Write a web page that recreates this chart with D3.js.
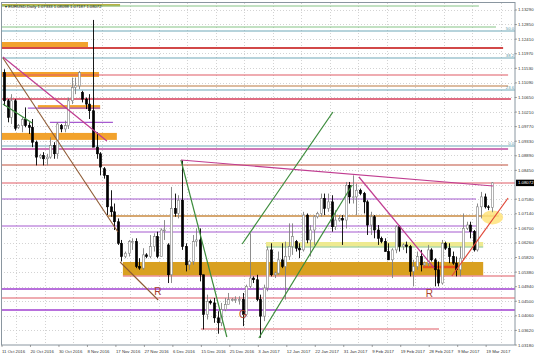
<!DOCTYPE html>
<html><head><meta charset="utf-8">
<script src="https://cdn.jsdelivr.net/npm/d3@7"></script>
<style>html,body{margin:0;padding:0;background:#fff;}svg{display:block;font-family:"Liberation Sans",Arial,sans-serif;}</style>
</head><body><svg id="c" width="536" height="358"></svg>
<script>
// ---------- DATA ----------
const title = "EURUSD,Daily  1.07333 1.08098 1.07187 1.08072";
const lastPrice = 1.08072;
// daily candles, one row per bar: [open, high, low, close]
const candles = [
[1.1140,1.1150,1.1040,1.1055],[1.1055,1.1060,1.0990,1.1005],[1.1005,1.1075,1.0985,1.1055],[1.1055,1.1060,1.0965,1.0972],
[1.0975,1.0985,1.0970,1.0980],[1.0980,1.1005,1.0960,1.0998],[1.0998,1.1035,1.0975,1.0980],[1.0980,1.0990,1.0955,1.0975],
[1.0975,1.1000,1.0915,1.0930],[1.0930,1.0935,1.0860,1.0885],[1.0885,1.0895,1.0880,1.0890],[1.0890,1.0900,1.0860,1.0880],
[1.0880,1.0895,1.0860,1.0885],[1.0885,1.0945,1.0880,1.0920],[1.0920,1.0930,1.0880,1.0895],[1.0895,1.0990,1.0880,1.0985],
[1.0980,1.0985,1.0960,1.0970],[1.0970,1.0995,1.0960,1.0980],[1.0980,1.1065,1.0970,1.1055],[1.1055,1.1125,1.1045,1.1095],
[1.1095,1.1125,1.1075,1.1100],[1.1100,1.1145,1.1090,1.1140],[1.1080,1.1085,1.1050,1.1060],[1.1060,1.1065,1.1030,1.1045],
[1.1045,1.1075,1.1000,1.1025],[1.1025,1.1299,1.1000,1.0915],[1.0915,1.0960,1.0880,1.0895],[1.0895,1.0900,1.0830,1.0855],
[1.0850,1.0855,1.0820,1.0830],[1.0830,1.0830,1.0710,1.0735],[1.0735,1.0785,1.0705,1.0720],[1.0720,1.0745,1.0665,1.0690],
[1.0690,1.0700,1.0620,1.0625],[1.0625,1.0635,1.0570,1.0585],[1.0585,1.0600,1.0580,1.0595],[1.0595,1.0635,1.0585,1.0630],
[1.0630,1.0640,1.0605,1.0630],[1.0630,1.0640,1.0550,1.0555],[1.0555,1.0580,1.0545,1.0550],[1.0550,1.0610,1.0545,1.0590],
[1.0590,1.0595,1.0580,1.0585],[1.0585,1.0650,1.0580,1.0615],[1.0615,1.0655,1.0600,1.0645],[1.0645,1.0660,1.0580,1.0585],
[1.0585,1.0670,1.0585,1.0665],[1.0665,1.0695,1.0635,1.0665],[1.0620,1.0625,1.0505,1.0530],[1.0530,1.0795,1.0505,1.0730],
[1.0730,1.0775,1.0705,1.0715],[1.0715,1.0770,1.0700,1.0755],[1.0755,1.0875,1.0605,1.0615],[1.0615,1.0625,1.0540,1.0560],
[1.0560,1.0575,1.0545,1.0570],[1.0570,1.0650,1.0560,1.0630],[1.0630,1.0670,1.0615,1.0635],[1.0635,1.0670,1.0510,1.0530],
[1.0530,1.0530,1.0365,1.0410],[1.0410,1.0470,1.0395,1.0450],[1.0450,1.0455,1.0440,1.0445],[1.0445,1.0460,1.0385,1.0400],
[1.0400,1.0420,1.0352,1.0385],[1.0385,1.0445,1.0375,1.0425],[1.0425,1.0460,1.0420,1.0440],[1.0440,1.0475,1.0440,1.0455],
[1.0455,1.0460,1.0450,1.0455],[1.0455,1.0465,1.0445,1.0455],[1.0455,1.0465,1.0440,1.0455],[1.0455,1.0475,1.0375,1.0410],
[1.0410,1.0500,1.0405,1.0495],[1.0495,1.0655,1.0490,1.0520],[1.0520,1.0525,1.0505,1.0515],[1.0515,1.0530,1.0450,1.0455],
[1.0455,1.0470,1.0340,1.0405],[1.0405,1.0500,1.0390,1.0490],[1.0490,1.0615,1.0480,1.0605],[1.0605,1.0625,1.0525,1.0530],
[1.0530,1.0540,1.0520,1.0535],[1.0535,1.0600,1.0530,1.0575],[1.0575,1.0625,1.0550,1.0555],[1.0555,1.0630,1.0455,1.0585],
[1.0585,1.0685,1.0575,1.0615],[1.0615,1.0685,1.0590,1.0645],[1.0630,1.0635,1.0600,1.0610],[1.0610,1.0625,1.0580,1.0605],
[1.0605,1.0720,1.0600,1.0710],[1.0710,1.0715,1.0625,1.0635],[1.0635,1.0680,1.0585,1.0665],[1.0665,1.0710,1.0620,1.0705],
[1.0705,1.0720,1.0700,1.0715],[1.0715,1.0775,1.0705,1.0760],[1.0760,1.0775,1.0710,1.0730],[1.0730,1.0775,1.0720,1.0750],
[1.0750,1.0770,1.0660,1.0675],[1.0675,1.0725,1.0665,1.0695],[1.0695,1.0710,1.0690,1.0700],[1.0700,1.0710,1.0620,1.0695],
[1.0695,1.0810,1.0670,1.0800],[1.0800,1.0810,1.0745,1.0765],[1.0765,1.0830,1.0745,1.0765],[1.0765,1.0805,1.0710,1.0785],
[1.0785,1.0790,1.0770,1.0775],[1.0775,1.0780,1.0715,1.0750],[1.0750,1.0755,1.0650,1.0680],[1.0680,1.0720,1.0650,1.0705],
[1.0705,1.0710,1.0640,1.0665],[1.0665,1.0680,1.0620,1.0640],[1.0640,1.0645,1.0625,1.0630],[1.0630,1.0640,1.0600,1.0600],
[1.0600,1.0625,1.0575,1.0575],[1.0575,1.0610,1.0520,1.0605],[1.0605,1.0680,1.0595,1.0675],[1.0675,1.0680,1.0600,1.0615],
[1.0615,1.0625,1.0605,1.0620],[1.0620,1.0630,1.0595,1.0615],[1.0615,1.0620,1.0525,1.0540],[1.0540,1.0575,1.0495,1.0555],
[1.0555,1.0600,1.0545,1.0585],[1.0585,1.0605,1.0540,1.0560],[1.0560,1.0570,1.0555,1.0565],[1.0565,1.0620,1.0555,1.0605],
[1.0605,1.0610,1.0570,1.0575],[1.0575,1.0580,1.0495,1.0545],[1.0545,1.0570,1.0495,1.0505],[1.0505,1.0635,1.0500,1.0625],
[1.0625,1.0630,1.0605,1.0610],[1.0610,1.0625,1.0565,1.0585],[1.0585,1.0600,1.0560,1.0565],[1.0565,1.0585,1.0525,1.0545],
[1.0545,1.0615,1.0525,1.0580],[1.0580,1.0715,1.0575,1.0670],[1.0670,1.0690,1.0665,1.0680],[1.0680,1.0690,1.0640,1.0660],
[1.0660,1.0665,1.0600,1.0605],[1.0605,1.0745,1.0600,1.0735],[1.0735,1.0780,1.0700,1.0765],[1.0765,1.0775,1.0730,1.0735],
[1.0735,1.0740,1.0725,1.0733],[1.07333,1.08098,1.07187,1.08072]
];
const dateLabels = ["11 Oct 2016","20 Oct 2016","30 Oct 2016","8 Nov 2016","17 Nov 2016","27 Nov 2016","6 Dec 2016",
  "15 Dec 2016","25 Dec 2016","3 Jan 2017","12 Jan 2017","22 Jan 2017","31 Jan 2017","9 Feb 2017","19 Feb 2017",
  "28 Feb 2017","9 Mar 2017","19 Mar 2017"];
const labelEvery = 8; // bars between date labels
const priceLabels = ["1.13290","1.12850","1.12410","1.11970","1.11530","1.11090","1.10650","1.10210","1.09770",
  "1.09330","1.08890","1.08450","1.07580","1.07140","1.06700","1.06260","1.05820","1.05380","1.04940","1.04500",
  "1.04060","1.03620","1.03180"];
// horizontal levels: price, from bar, to bar, kind
const levels = [
 {p:1.13410,a:-1,b:133.4,k:"greenH"},
 {p:1.12777,a:-1,b:138.2,k:"greenH"},
 {p:1.12656,a:-1,b:144,k:"fib"},
 {p:1.12143,a:-1,b:140.2,k:"red2"},
 {p:1.11841,a:-1,b:144,k:"fib"},
 {p:1.11328,a:-1,b:141.6,k:"red"},
 {p:1.10996,a:-1,b:141.6,k:"brown"},
 {p:1.10875,a:-1,b:144,k:"fib"},
 {p:1.10604,a:-1,b:142.4,k:"crimson"},
 {p:1.10330,a:6.7,b:27,k:"purple"},
 {p:1.09900,a:12.9,b:30.6,k:"purple"},
 {p:1.09185,a:-1,b:144,k:"fib"},
 {p:1.09095,a:-1,b:141.6,k:"magenta"},
 {p:1.08612,a:-1,b:141.6,k:"brownRed"},
 {p:1.08069,a:-1,b:144,k:"red"},
 {p:1.07586,a:-1,b:132.6,k:"purple"},
 {p:1.07073,a:29.2,b:139,k:"orangeBrown"},
 {p:1.06771,a:-1,b:133.1,k:"purple"},
 {p:1.06590,a:35.4,b:133.4,k:"purple"},
 {p:1.06137,a:73.6,b:134.6,k:"greenH"},
 {p:1.05262,a:33.4,b:144,k:"red"},
 {p:1.04870,a:-1,b:144,k:"purple2"},
 {p:1.04598,a:-1,b:144,k:"red"},
 {p:1.04236,a:-1,b:144,k:"purple2"},
 {p:1.03663,a:55.3,b:122.2,k:"red"},
 {p:1.05534,a:117.7,b:127,k:"orangeRed"}
];
const fibNames = [{p:1.12656,t:"50.0"},{p:1.11841,t:"38.2"},{p:1.10875,t:"23.6"},{p:1.09185,t:"0.0"}];
// zones: price top, price bottom, from bar, to bar, kind
const zones = [
 {p1:1.13470,p2:1.13400,a:-1,b:32.6,k:"olive"},
 {p1:1.12324,p2:1.12173,a:-1,b:23.6,k:"orange"},
 {p1:1.11419,p2:1.11268,a:-1,b:26.7,k:"orange"},
 {p1:1.10420,p2:1.10300,a:9.5,b:27,k:"orange"},
 {p1:1.09580,p2:1.09370,a:-1,b:31.7,k:"orange"},
 {p1:1.06288,p2:1.06150,a:73.6,b:134.6,k:"yellow"},
 {p1:1.05685,p2:1.05280,a:33.4,b:134.6,k:"gold"}
];
// trend lines: bar/price start and end, kind
const trends = [
 {i1:-0.3,p1:1.11871,i2:28.9,p2:1.09336,k:"magentaT"},
 {i1:-0.3,p1:1.11841,i2:32.0,p2:1.06590,k:"brownT"},
 {i1:-0.3,p1:1.10453,i2:7.9,p2:1.09880,k:"greenT"},
 {i1:32.6,p1:1.05685,i2:43.3,p2:1.04538,k:"brownT"},
 {i1:49.7,p1:1.08763,i2:62.6,p2:1.03421,k:"greenT"},
 {i1:66.9,p1:1.06228,i2:92.4,p2:1.10211,k:"greenT"},
 {i1:71.6,p1:1.03391,i2:97.8,p2:1.08008,k:"greenT"},
 {i1:49.7,p1:1.08763,i2:137.4,p2:1.07978,k:"magentaT"},
 {i1:99.7,p1:1.08250,i2:120.8,p2:1.05504,k:"magentaT"},
 {i1:125.8,p1:1.05262,i2:141.6,p2:1.07616,k:"redT"}
];
const marks = [{i:43.2,p:1.0468,t:"R"},{i:67.1,p:1.0398,t:"G"},{i:119.5,p:1.0462,t:"R"}];
const ellipses = [{i:137.2,p:1.0703,ri:3,rp:0.0021}];

// ---------- STYLES ----------
const styles = {
 greenH:{c:"#86c486",w:1.2}, fib:{c:"#6fa8b8",w:1.2}, red2:{c:"#d24848",w:2}, red:{c:"#e05a64",w:1.2},
 brown:{c:"#b97840",w:1.2}, crimson:{c:"#d43c58",w:1.3}, purple:{c:"#a65bd0",w:1.2}, purple2:{c:"#a040d0",w:1.6},
 magenta:{c:"#c04aa0",w:1.3}, brownRed:{c:"#c0503c",w:1.2}, orangeBrown:{c:"#c88a40",w:1.4}, orangeRed:{c:"#e8501c",w:2.5},
 olive:{c:"#b8b040"}, orange:{c:"#f2a22c"}, yellow:{c:"#eeea90"}, gold:{c:"#d9a020"},
 magentaT:{c:"#c03c90",w:1.2}, brownT:{c:"#8e5a34",w:1.1}, greenT:{c:"#3c8c3c",w:1.2}, redT:{c:"#e04838",w:1.2}
};
const axisFont = 4.3;

// ---------- CHART ----------
const svg = d3.select("#c");
const L=1,R=515,T=3,B=345;
const x = d3.scaleLinear().domain([0,137]).range([4,4+137*3.56]);
const y = d3.scaleLinear().domain([1.0318,1.13501]).range([B,T]);
svg.append("defs").append("clipPath").attr("id","pc").append("rect").attr("x",L).attr("y",T).attr("width",R-L).attr("height",B-T);
const g = svg.append("g").attr("clip-path","url(#pc)");

// grid
const yTicks = d3.range(0,24).map(k=>1.0318+k*0.0044);
g.selectAll(".hg").data(yTicks).join("line").attr("x1",L).attr("x2",R)
 .attr("y1",d=>Math.round(y(d))+0.5).attr("y2",d=>Math.round(y(d))+0.5)
 .attr("stroke","#c8c8c8").attr("stroke-width",0.8).attr("stroke-dasharray","1,2");
const vIdx = d3.range(0,19).map(k=>3.5+k*labelEvery);
g.selectAll(".vg").data(vIdx).join("line").attr("y1",T).attr("y2",B)
 .attr("x1",d=>Math.round(x(d))+0.5).attr("x2",d=>Math.round(x(d))+0.5)
 .attr("stroke","#c8c8c8").attr("stroke-width",0.8).attr("stroke-dasharray","1,2");

// zones
g.selectAll(".z").data(zones).join("rect")
 .attr("x",d=>x(d.a)).attr("width",d=>x(d.b)-x(d.a))
 .attr("y",d=>y(d.p1)).attr("height",d=>y(d.p2)-y(d.p1))
 .attr("fill",d=>styles[d.k].c);

// levels
g.selectAll(".lv").data(levels).join("line")
 .attr("x1",d=>x(d.a)).attr("x2",d=>x(d.b)).attr("y1",d=>y(d.p)).attr("y2",d=>y(d.p))
 .attr("stroke",d=>styles[d.k].c).attr("stroke-width",d=>styles[d.k].w);
g.selectAll(".fl").data(fibNames).join("text").attr("x",R-1).attr("y",d=>y(d.p)-1)
 .attr("text-anchor","end").attr("font-size",4.2).attr("fill","#5a98a8").text(d=>d.t);

// ellipse highlight
g.selectAll(".el").data(ellipses).join("ellipse").attr("cx",d=>x(d.i)).attr("cy",d=>y(d.p))
 .attr("rx",d=>x(d.i+d.ri)-x(d.i)).attr("ry",d=>y(d.p-d.rp)-y(d.p)).attr("fill","#ffe37a").attr("opacity",0.85);

// candles
const cg = g.append("g");
candles.forEach((c,i)=>{
  const [o,h,l,cl]=c; const up = cl>=o; const xc=Math.round(x(i))+0.5;
  cg.append("line").attr("x1",xc).attr("x2",xc).attr("y1",y(h)).attr("y2",y(l))
    .attr("stroke",up?"#808080":"#000").attr("stroke-width",0.9);
  const top=y(Math.max(o,cl)), bot=y(Math.min(o,cl));
  cg.append("rect").attr("x",xc-1.1).attr("width",2.2).attr("y",top).attr("height",Math.max(0.8,bot-top))
    .attr("fill",up?"#fff":"#000").attr("stroke",up?"#808080":"#000").attr("stroke-width",0.6);
});

// trend lines
g.selectAll(".tr").data(trends).join("line")
 .attr("x1",d=>x(d.i1)).attr("y1",d=>y(d.p1)).attr("x2",d=>x(d.i2)).attr("y2",d=>y(d.p2))
 .attr("stroke",d=>styles[d.k].c).attr("stroke-width",d=>styles[d.k].w);

// marks
g.selectAll(".mk").data(marks).join("text").attr("x",d=>x(d.i)).attr("y",d=>y(d.p))
 .attr("text-anchor","middle").attr("font-size",10).attr("fill","#a8402c").text(d=>d.t);

// title
g.append("text").attr("x",5).attr("y",7.5).attr("font-size",4.2).attr("fill","#222").text("\u25BE "+title);

// frame
svg.append("rect").attr("x",L+0.5).attr("y",T-0.5).attr("width",R-L-0.5).attr("height",B-T+0.5)
 .attr("fill","none").attr("stroke","#8a96a0").attr("stroke-width",1);

// right axis
svg.selectAll(".yl").data(priceLabels).join("text").attr("x",518).attr("y",d=>y(+d)+1.5)
 .attr("font-size",axisFont).attr("fill","#333").text(d=>d);
svg.selectAll(".yt").data(priceLabels).join("line").attr("x1",R).attr("x2",R+2)
 .attr("y1",d=>y(+d)).attr("y2",d=>y(+d)).attr("stroke","#666").attr("stroke-width",0.6);
svg.append("rect").attr("x",R+1).attr("y",y(lastPrice)-3.2).attr("width",18).attr("height",6.4).attr("fill","#000");
svg.append("text").attr("x",518).attr("y",y(lastPrice)+1.5).attr("font-size",axisFont).attr("fill","#fff").text(lastPrice.toFixed(5));

// bottom axis
svg.selectAll(".xl").data(dateLabels).join("text").attr("x",(d,k)=>x(k*labelEvery)-2).attr("y",353)
 .attr("font-size",axisFont).attr("fill","#333").text(d=>d);
svg.selectAll(".xt").data(dateLabels).join("line").attr("x1",(d,k)=>x(k*labelEvery)-2).attr("x2",(d,k)=>x(k*labelEvery)-2)
 .attr("y1",B).attr("y2",B+2).attr("stroke","#666").attr("stroke-width",0.6);
</script></body></html>
